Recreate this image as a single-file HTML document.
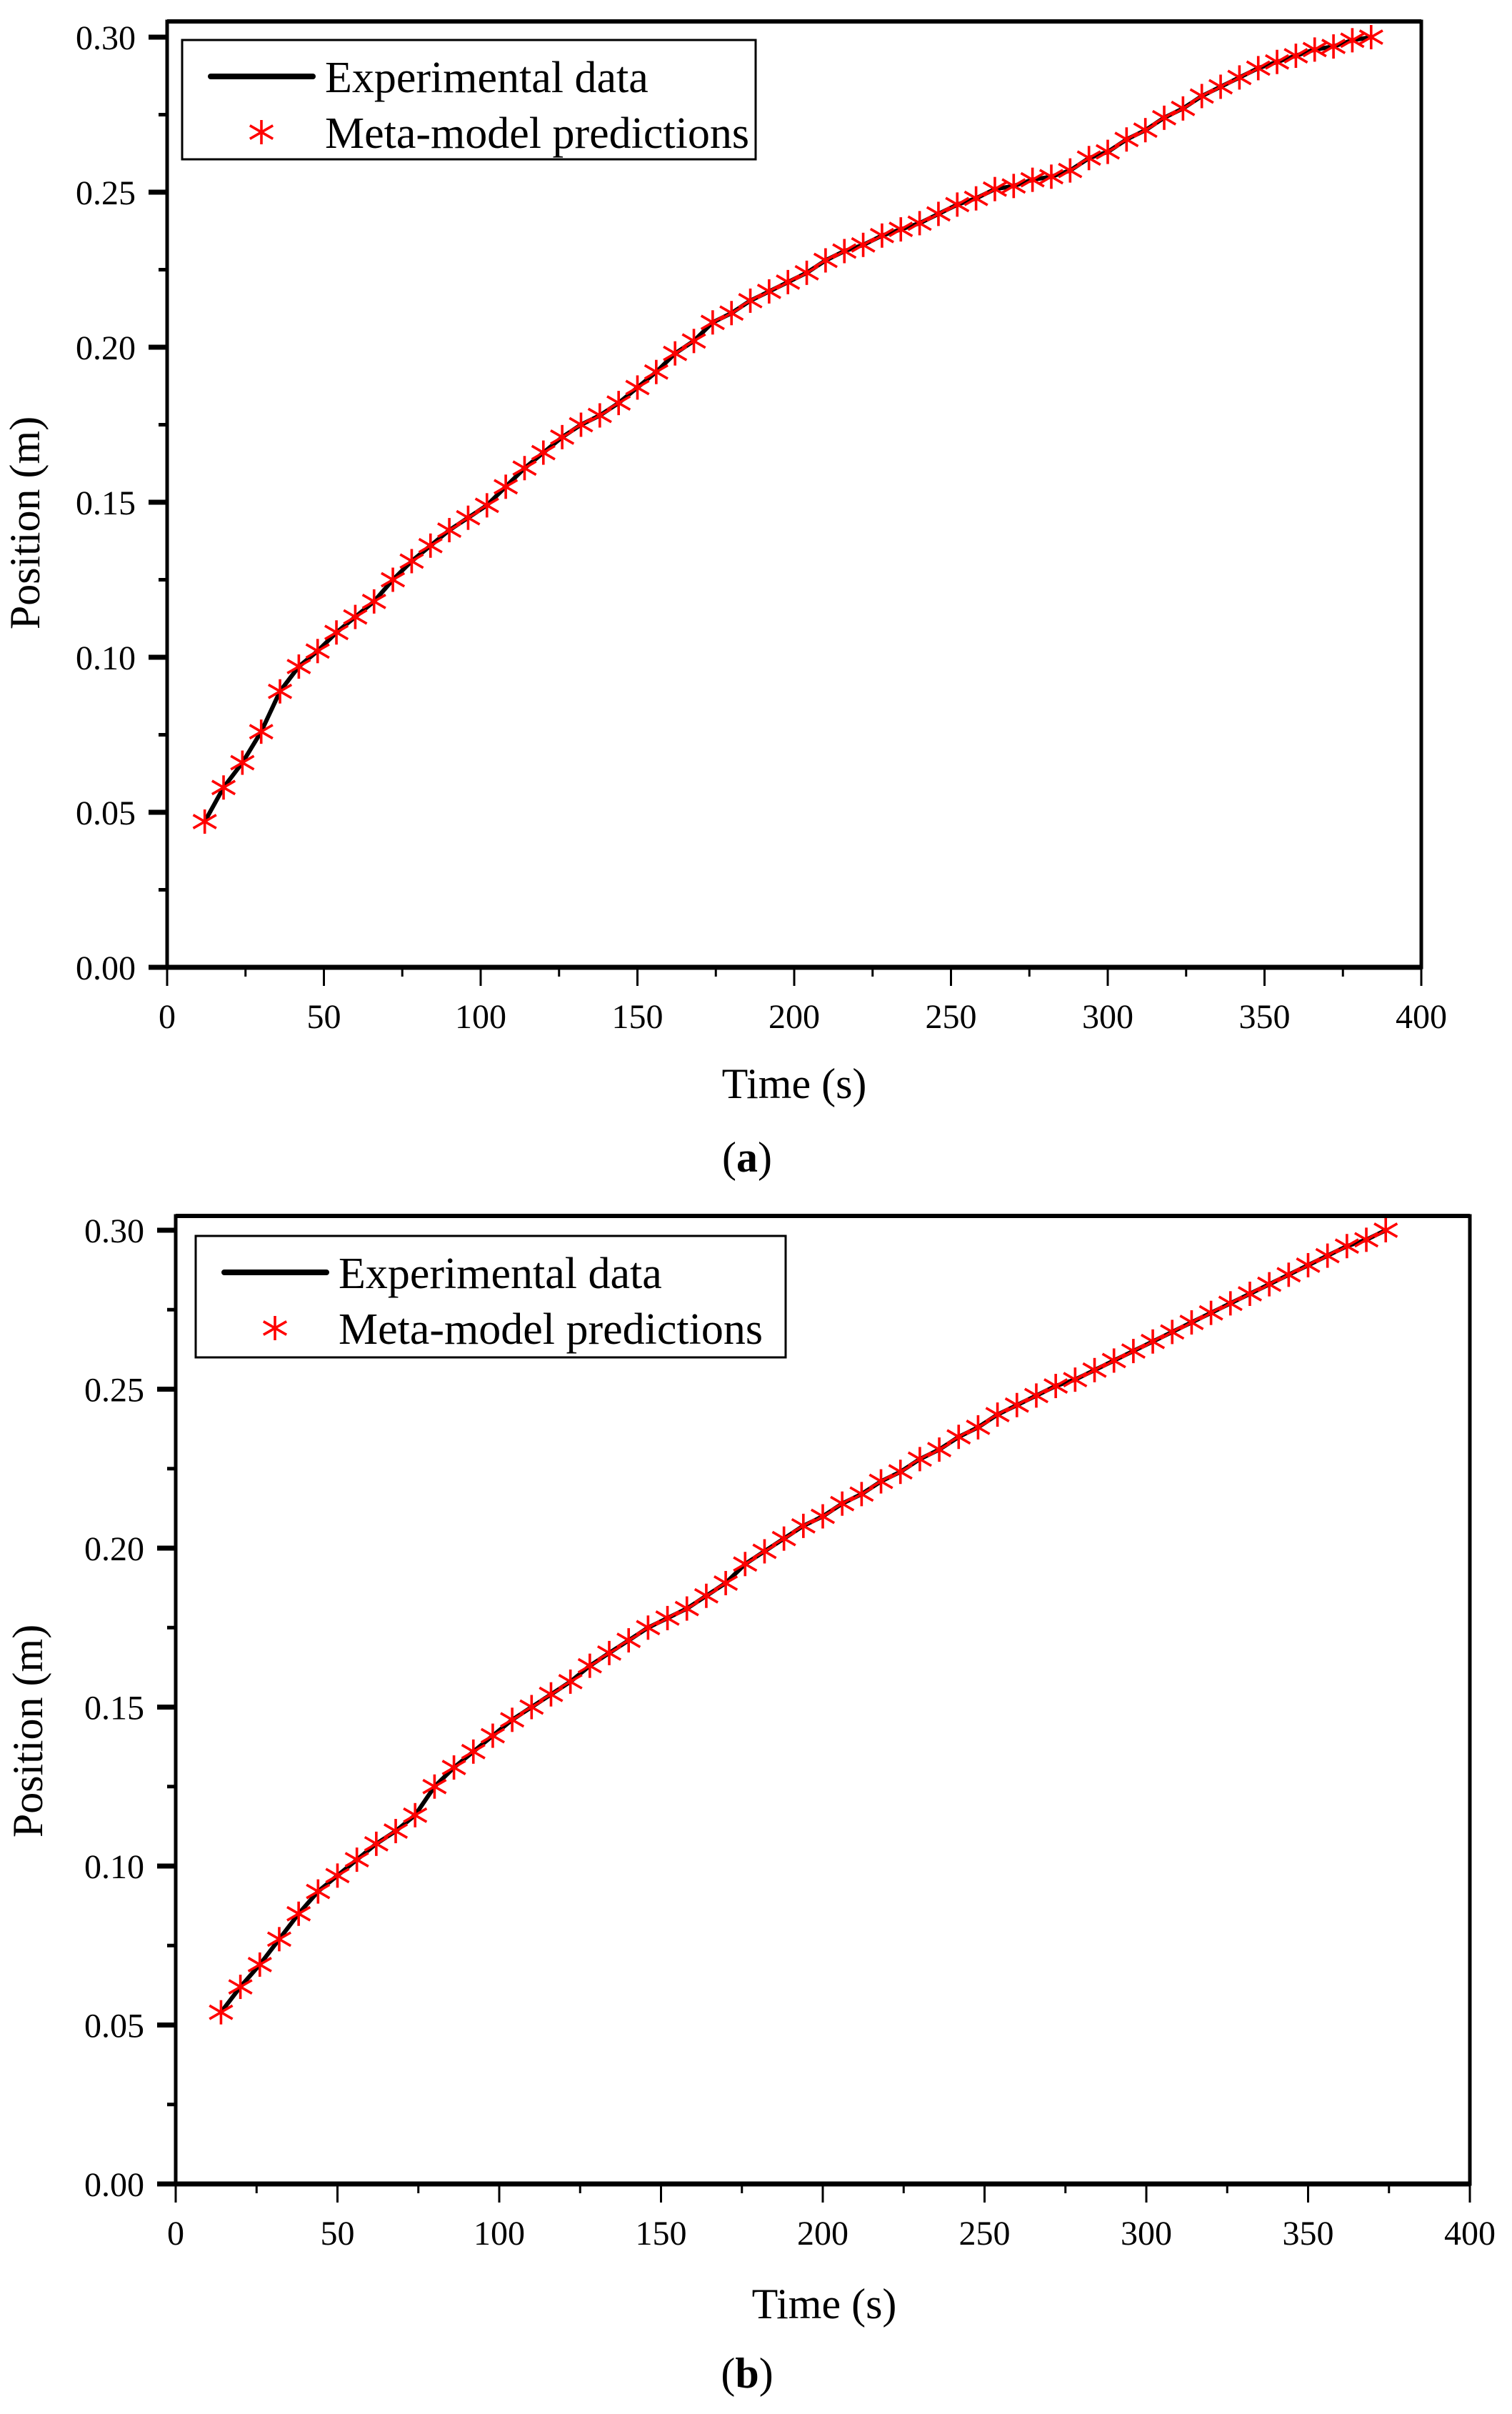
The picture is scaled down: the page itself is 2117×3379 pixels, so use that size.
<!DOCTYPE html>
<html><head><meta charset="utf-8"><style>
html,body{margin:0;padding:0;background:#fff;}
svg{display:block;font-family:"Liberation Serif",serif;}
</style></head><body>
<svg id="fig" width="2117" height="3379" viewBox="0 0 2117 3379" xmlns="http://www.w3.org/2000/svg"></svg>
<script>
// ---- data (chart a) ----
const aTime = [12,18,24,30,36,42,48,54,60,66,72,78,84,90,96,102,108,114,120,126,132,138,144,150,156,162,168,174,180,186,192,198,204,210,216,222,228,234,240,246,252,258,264,270,276,282,288,294,300,306,312,318,324,330,336,342,348,354,360,366,372,378,384];
const aPos = [0.047,0.058,0.066,0.076,0.089,0.097,0.102,0.108,0.113,0.118,0.125,0.131,0.136,0.141,0.145,0.149,0.155,0.161,0.166,0.171,0.175,0.178,0.182,0.187,0.192,0.198,0.202,0.208,0.211,0.215,0.218,0.221,0.224,0.228,0.231,0.233,0.236,0.238,0.240,0.243,0.246,0.248,0.251,0.252,0.254,0.255,0.257,0.261,0.263,0.267,0.270,0.274,0.277,0.281,0.284,0.287,0.290,0.292,0.294,0.296,0.297,0.299,0.300];
// ---- data (chart b) ----
const bTime = [14,20,26,32,38,44,50,56,62,68,74,80,86,92,98,104,110,116,122,128,134,140,146,152,158,164,170,176,182,188,194,200,206,212,218,224,230,236,242,248,254,260,266,272,278,284,290,296,302,308,314,320,326,332,338,344,350,356,362,368,374];
const bPos = [0.054,0.062,0.069,0.077,0.085,0.092,0.097,0.102,0.107,0.111,0.116,0.125,0.131,0.136,0.141,0.146,0.150,0.154,0.158,0.163,0.167,0.171,0.175,0.178,0.181,0.185,0.189,0.195,0.199,0.203,0.207,0.210,0.214,0.217,0.221,0.224,0.228,0.231,0.235,0.238,0.242,0.245,0.248,0.251,0.253,0.256,0.259,0.262,0.265,0.268,0.271,0.274,0.277,0.280,0.283,0.286,0.289,0.292,0.295,0.297,0.300];
// ---- ticks ----
const xTicks = [0,50,100,150,200,250,300,350,400];
const xMinor = [25,75,125,175,225,275,325,375];
const yTicks = [0,0.05,0.10,0.15,0.20,0.25,0.30];
const yTickLabels = ["0.00","0.05","0.10","0.15","0.20","0.25","0.30"];
const yMinor = [0.025,0.075,0.125,0.175,0.225,0.275];

const NS="http://www.w3.org/2000/svg";
const svg=document.getElementById('fig');
function mk(tag,attrs,parent){const e=document.createElementNS(NS,tag);for(const k in attrs)e.setAttribute(k,attrs[k]);(parent||svg).appendChild(e);return e;}

function chart(c){
  const g=mk('g',{});
  
  
  const sx=t=>c.x0+(t/400)*(c.x1-c.x0);
  const sy=v=>c.y0+(v/0.30)*(c.y30-c.y0);
  let e=mk('rect',{x:c.x0,y:c.top,width:c.x1-c.x0,height:c.y0-c.top,fill:'none',stroke:'#000','stroke-width':5},g);
  
  
  e=mk('line',{x1:c.x0,y1:c.top,x2:c.x1,y2:c.top,stroke:'#000','stroke-width':6},g);
  
  
  e=mk('line',{x1:c.x0-22,y1:c.y0,x2:c.x1,y2:c.y0,stroke:'#000','stroke-width':7},g);
  
  
  for(const t of xTicks){
    e=mk('line',{x1:sx(t),y1:c.y0,x2:sx(t),y2:c.y0+26,stroke:'#000','stroke-width':3},g);
    
    
    e=mk('text',{x:sx(t),y:c.y0+85,'text-anchor':'middle','font-size':48},g);
    e.textContent=t;
    
    
  }
  for(const t of xMinor){
    e=mk('line',{x1:sx(t),y1:c.y0,x2:sx(t),y2:c.y0+13,stroke:'#000','stroke-width':3},g);
    
    
  }
  yTicks.forEach((v,i)=>{
    e=mk('line',{x1:c.x0-26,y1:sy(v),x2:c.x0,y2:sy(v),stroke:'#000','stroke-width':7},g);
    
    
    e=mk('text',{x:c.x0-44,y:sy(v)+17,'text-anchor':'end','font-size':48},g);
    e.textContent=yTickLabels[i];
    
    
  });
  for(const v of yMinor){
    e=mk('line',{x1:c.x0-12,y1:sy(v),x2:c.x0,y2:sy(v),stroke:'#000','stroke-width':5},g);
    
    
  }
  const d=c.t.map((t,i)=>(i?'L':'M')+sx(t).toFixed(1)+' '+sy(c.v[i]).toFixed(1)).join(' ');
  e=mk('path',{d:d,fill:'none',stroke:'#000','stroke-width':6,'stroke-linejoin':'round'},g);
  
  
  c.t.forEach((t,i)=>{
    const m=star(sx(t),sy(c.v[i]),g);
    
    
  });
  const L=c.leg;
  e=mk('rect',{x:L.x,y:L.y,width:L.w,height:L.h,fill:'#fff',stroke:'#000','stroke-width':3},g);
  
  
  e=mk('line',{x1:L.x+40,y1:L.y+51,x2:L.x+183,y2:L.y+51,stroke:'#000','stroke-width':8,'stroke-linecap':'round'},g);
  
  
  e=mk('text',{x:L.x+200,y:L.y+73,'font-size':62},g);
  e.textContent='Experimental data';
  
  
  const s=star(L.x+111,L.y+129,g);
  
  
  e=mk('text',{x:L.x+200,y:L.y+151,'font-size':62},g);
  e.textContent='Meta-model predictions';
  
  
  e=mk('text',{x:c.xt,y:c.xty,'text-anchor':'middle','font-size':60},g);
  e.textContent='Time (s)';
  
  
  e=mk('text',{x:0,y:0,'text-anchor':'middle','font-size':60,transform:`translate(${c.ytx},${c.yty}) rotate(-90)`},g);
  e.textContent='Position (m)';
  
  
  e=mk('text',{x:1046,y:c.capy,'text-anchor':'middle','font-size':60},g);
  e.innerHTML='(<tspan font-weight="bold">'+c.cap+'</tspan>)';
  
  
}
function star(x,y,p){
  const g=mk('g',{stroke:'#f00','stroke-width':3.6,fill:'none'},p);
  const r=17;
  mk('line',{x1:x,y1:y-r,x2:x,y2:y+r},g);
  mk('line',{x1:x-r*0.95,y1:y-r*0.55,x2:x+r*0.95,y2:y+r*0.55},g);
  mk('line',{x1:x-r*0.95,y1:y+r*0.55,x2:x+r*0.95,y2:y-r*0.55},g);
  return g;
}
chart({name:'chart-a',x0:234,x1:1990,top:30,y0:1354,y30:52,t:aTime,v:aPos,
  leg:{x:255,y:56,w:803,h:167},xt:1112,xty:1537,ytx:55,yty:732,capy:1640,cap:'a'});
chart({name:'chart-b',x0:246,x1:2058,top:1702,y0:3057,y30:1722,t:bTime,v:bPos,
  leg:{x:274,y:1730,w:826,h:170},xt:1154,xty:3245,ytx:59,yty:2423,capy:3342,cap:'b'});
</script>
</body></html>
